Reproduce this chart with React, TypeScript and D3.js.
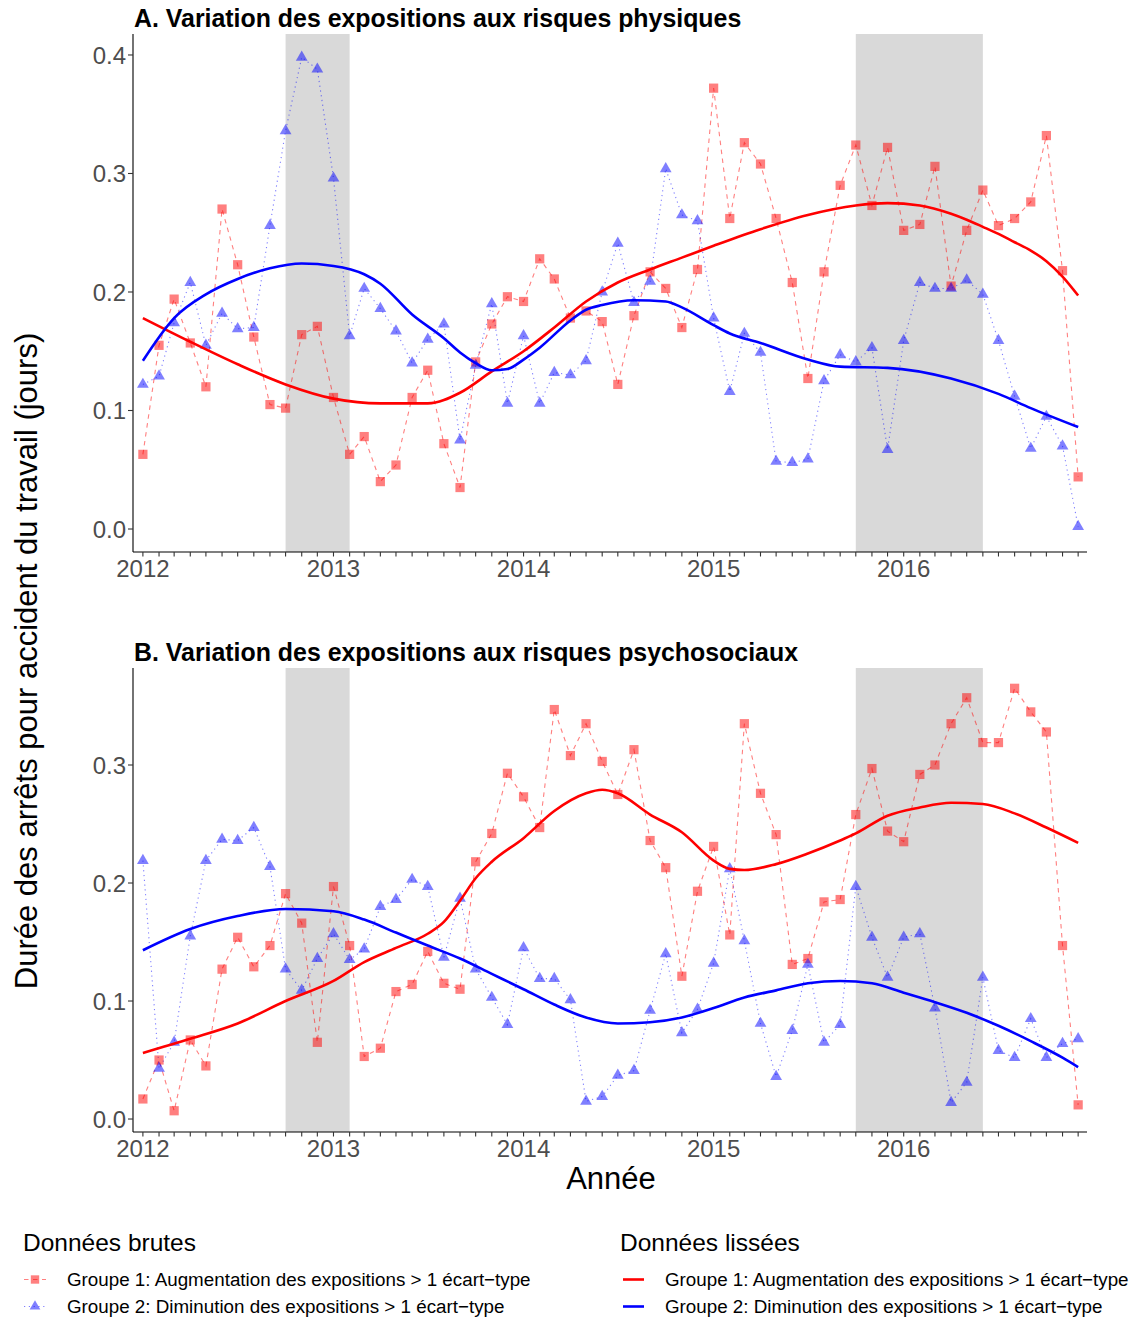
import React from "react";
import * as d3 from "d3";

// ---------- DATA ----------
// Monthly observations, Jan 2012 .. Dec 2016 (60 months)
const months: Date[] = d3.timeMonths(new Date(2012, 0, 1), new Date(2017, 0, 1));
const yearTicks: Date[] = [2012, 2013, 2014, 2015, 2016].map((y) => new Date(y, 0, 1));
const shadedPeriods: [Date, Date][] = [
  [new Date(2012, 9, 1), new Date(2013, 1, 1)],
  [new Date(2015, 9, 1), new Date(2016, 5, 1)],
];

// Panel A — raw data
const rawA_g1 = [
  0.063, 0.155, 0.194, 0.157, 0.120, 0.270, 0.223, 0.162, 0.105, 0.102, 0.164, 0.171,
  0.111, 0.063, 0.078, 0.040, 0.054, 0.111, 0.134, 0.072, 0.035, 0.141, 0.173, 0.196,
  0.192, 0.228, 0.211, 0.178, 0.184, 0.175, 0.122, 0.180, 0.217, 0.203, 0.170, 0.219,
  0.372, 0.262, 0.326, 0.308, 0.262, 0.208, 0.127, 0.217, 0.290, 0.324, 0.273, 0.322,
  0.252, 0.257, 0.306, 0.205, 0.252, 0.286, 0.256, 0.262, 0.276, 0.332, 0.218, 0.044,
];
const rawA_g2 = [
  0.122, 0.129, 0.174, 0.208, 0.155, 0.182, 0.169, 0.170, 0.256, 0.336, 0.398, 0.388,
  0.296, 0.163, 0.203, 0.186, 0.167, 0.140, 0.160, 0.173, 0.075, 0.138, 0.190, 0.106,
  0.163, 0.106, 0.132, 0.130, 0.142, 0.200, 0.241, 0.191, 0.209, 0.304, 0.265, 0.260,
  0.178, 0.116, 0.165, 0.149, 0.057, 0.056, 0.059, 0.125, 0.147, 0.141, 0.153, 0.067,
  0.159, 0.208, 0.203, 0.203, 0.210, 0.198, 0.159, 0.112, 0.068, 0.095, 0.070, 0.002,
];
// Panel A — smoothed curves: [month index, value]
const smoothA_g1: [number, number][] = [
  [0, 0.178], [3, 0.158], [6, 0.139], [9, 0.122], [12, 0.110], [15, 0.106], [18, 0.106],
  [20, 0.115], [22, 0.133], [24, 0.150], [26, 0.170], [28, 0.192], [30, 0.208], [32, 0.219],
  [34, 0.229], [36, 0.239], [39, 0.253], [42, 0.265], [45, 0.273], [47, 0.275], [49, 0.273],
  [51, 0.266], [52, 0.261], [53, 0.255], [54, 0.249], [55, 0.242], [56, 0.235], [57, 0.226],
  [58, 0.213], [59, 0.197],
];
const smoothA_g2: [number, number][] = [
  [0, 0.142], [2, 0.178], [4, 0.198], [6, 0.211], [8, 0.220], [10, 0.224], [12, 0.222],
  [14, 0.215], [15, 0.207], [17, 0.181], [19, 0.161], [20, 0.149], [21, 0.140], [22, 0.134],
  [23, 0.135], [24, 0.143], [25, 0.153], [27, 0.176], [28, 0.185], [29, 0.189], [31, 0.193],
  [33, 0.192], [34, 0.187], [36, 0.172], [37, 0.165], [39, 0.157], [42, 0.143], [44, 0.137],
  [47, 0.136], [51, 0.127], [54, 0.114], [56, 0.102], [59, 0.086],
];

// Panel B — raw data
const rawB_g1 = [
  0.017, 0.050, 0.007, 0.067, 0.045, 0.127, 0.154, 0.129, 0.147, 0.191, 0.166, 0.065,
  0.197, 0.147, 0.053, 0.060, 0.108, 0.114, 0.142, 0.115, 0.110, 0.218, 0.242, 0.293,
  0.273, 0.247, 0.347, 0.308, 0.335, 0.303, 0.275, 0.313, 0.236, 0.213, 0.121, 0.193,
  0.231, 0.156, 0.335, 0.276, 0.241, 0.131, 0.136, 0.184, 0.186, 0.258, 0.297, 0.244,
  0.235, 0.292, 0.300, 0.335, 0.357, 0.319, 0.319, 0.365, 0.345, 0.328, 0.147, 0.012,
];
const rawB_g2 = [
  0.219, 0.043, 0.065, 0.155, 0.219, 0.237, 0.236, 0.247, 0.214, 0.127, 0.109, 0.136,
  0.157, 0.135, 0.144, 0.180, 0.186, 0.203, 0.197, 0.137, 0.187, 0.127, 0.103, 0.080,
  0.145, 0.119, 0.119, 0.101, 0.015, 0.019, 0.037, 0.041, 0.092, 0.140, 0.073, 0.093,
  0.132, 0.212, 0.151, 0.081, 0.036, 0.075, 0.131, 0.065, 0.080, 0.197, 0.154, 0.120,
  0.154, 0.157, 0.094, 0.014, 0.031, 0.120, 0.058, 0.052, 0.085, 0.052, 0.064, 0.068,
];
const smoothB_g1: [number, number][] = [
  [0, 0.056], [3, 0.068], [6, 0.081], [9, 0.100], [12, 0.117], [14, 0.133], [16, 0.145],
  [18, 0.157], [19, 0.167], [20, 0.185], [21, 0.204], [22, 0.218], [24, 0.238], [26, 0.261],
  [28, 0.276], [29, 0.279], [30, 0.276], [32, 0.258], [34, 0.243], [36, 0.219], [37, 0.212],
  [38, 0.211], [40, 0.216], [42, 0.225], [44, 0.236], [45, 0.242], [47, 0.257], [49, 0.264],
  [51, 0.268], [53, 0.267], [55, 0.259], [57, 0.247], [59, 0.234],
];
const smoothB_g2: [number, number][] = [
  [0, 0.143], [3, 0.161], [6, 0.172], [9, 0.178], [12, 0.176], [14, 0.169], [16, 0.158],
  [18, 0.147], [20, 0.136], [22, 0.123], [24, 0.110], [26, 0.097], [28, 0.086], [30, 0.081],
  [32, 0.082], [34, 0.086], [36, 0.094], [38, 0.103], [40, 0.109], [42, 0.115], [44, 0.117],
  [46, 0.115], [48, 0.107], [50, 0.099], [52, 0.090], [54, 0.079], [56, 0.066], [58, 0.052],
  [59, 0.044],
];

const panelTitles = [
  "A. Variation des expositions aux risques physiques",
  "B. Variation des expositions aux risques psychosociaux",
];
const yTicksA = [0, 0.1, 0.2, 0.3, 0.4];
const yTicksB = [0, 0.1, 0.2, 0.3];
const yLabel = "Durée des arrêts pour accident du travail (jours)";
const xLabel = "Année";
const legendRawTitle = "Données brutes";
const legendSmoothTitle = "Données lissées";
const groupLabels = [
  "Groupe 1: Augmentation des expositions > 1 écart\u2212type",
  "Groupe 2: Diminution des expositions > 1 écart\u2212type",
];

// ---------- STYLE ----------
const FONT = "'Liberation Sans', Arial, Helvetica, sans-serif";
const RED = "#ff0000";
const BLUE = "#0000ff";
const RED_A = "rgba(255,0,0,0.5)";
const BLUE_A = "rgba(0,0,255,0.5)";
const SHADE = "#d9d9d9";
const TICK_COL = "#4d4d4d";

const W = 1133;
const H = 1319;
const plotLeft = 133;
const plotRight = 1087;

const xScale = d3
  .scaleTime()
  .domain([d3.timeDay.offset(new Date(2012, 0, 1), -19), d3.timeDay.offset(new Date(2016, 11, 1), 17)])
  .range([plotLeft, plotRight]);

const squarePath = d3.symbol(d3.symbolSquare, 85)()!;
const trianglePath = d3.symbol(d3.symbolTriangle, 60)()!;

type PanelProps = {
  top: number;
  bottom: number;
  yDomain: [number, number];
  yTicks: number[];
  title: string;
  g1: number[];
  g2: number[];
  s1: [number, number][];
  s2: [number, number][];
};

function Panel({ top, bottom, yDomain, yTicks, title, g1, g2, s1, s2 }: PanelProps) {
  const y = d3.scaleLinear().domain(yDomain).range([bottom, top]);
  const rawLine = d3
    .line<number>()
    .x((_, i) => xScale(months[i]))
    .y((d) => y(d));
  const smoothLine = d3
    .line<[number, number]>()
    .x((d) => xScale(months[d[0]]))
    .y((d) => y(d[1]))
    .curve(d3.curveMonotoneX);
  const fmt = d3.format(".1f");
  return (
    <g>
      {shadedPeriods.map(([a, b], i) => (
        <rect key={i} x={xScale(a)} y={top} width={xScale(b) - xScale(a)} height={bottom - top} fill={SHADE} />
      ))}
      <path d={rawLine(g1)!} fill="none" stroke={RED_A} strokeWidth={1.1} strokeDasharray="4.5,4.5" />
      <path d={rawLine(g2)!} fill="none" stroke={BLUE_A} strokeWidth={1.1} strokeDasharray="1.2,3.6" />
      {g1.map((v, i) => (
        <path key={"r" + i} d={squarePath} transform={`translate(${xScale(months[i])},${y(v)})`} fill={RED_A} />
      ))}
      {g2.map((v, i) => (
        <path key={"b" + i} d={trianglePath} transform={`translate(${xScale(months[i])},${y(v)})`} fill={BLUE_A} />
      ))}
      <path d={smoothLine(s1)!} fill="none" stroke={RED} strokeWidth={2.6} />
      <path d={smoothLine(s2)!} fill="none" stroke={BLUE} strokeWidth={2.6} />
      {/* axes */}
      <line x1={plotLeft} x2={plotLeft} y1={top} y2={bottom} stroke="#000" strokeWidth={1.1} />
      <line x1={plotLeft} x2={plotRight} y1={bottom} y2={bottom} stroke="#000" strokeWidth={1.1} />
      {yTicks.map((t) => (
        <g key={t}>
          <line x1={plotLeft - 5} x2={plotLeft} y1={y(t)} y2={y(t)} stroke="#333" strokeWidth={1.1} />
          <text x={plotLeft - 7} y={y(t)} dy="0.36em" textAnchor="end" fontSize={24} fill={TICK_COL} fontFamily={FONT}>
            {fmt(t)}
          </text>
        </g>
      ))}
      {months.map((m, i) => (
        <line key={i} x1={xScale(m)} x2={xScale(m)} y1={bottom} y2={bottom + 4.5} stroke="#333" strokeWidth={1.1} />
      ))}
      {yearTicks.map((t, i) => (
        <text key={i} x={xScale(t)} y={bottom + 25} textAnchor="middle" fontSize={24} fill={TICK_COL} fontFamily={FONT}>
          {d3.timeFormat("%Y")(t)}
        </text>
      ))}
      <text x={plotLeft + 1} y={top - 7} fontSize={24.9} fontWeight="bold" fill="#000" fontFamily={FONT}>
        {title}
      </text>
    </g>
  );
}

function Legend() {
  const sq = d3.symbol(d3.symbolSquare, 70)()!;
  const tri = d3.symbol(d3.symbolTriangle, 50)()!;
  const rows = [1286, 1313];
  return (
    <g fontFamily={FONT}>
      <text x={23} y={1251} fontSize={24.5} fill="#000">{legendRawTitle}</text>
      <text x={620} y={1251} fontSize={24.5} fill="#000">{legendSmoothTitle}</text>
      {rows.map((ry, i) => {
        const cy = ry - 6.5;
        return (
          <g key={i}>
            <line
              x1={24}
              x2={46}
              y1={cy}
              y2={cy}
              stroke={i === 0 ? RED_A : BLUE_A}
              strokeWidth={1.1}
              strokeDasharray={i === 0 ? "4.5,4.5" : "1.2,3.6"}
            />
            <path d={i === 0 ? sq : tri} transform={`translate(35,${cy})`} fill={i === 0 ? RED_A : BLUE_A} />
            <text x={67} y={ry} fontSize={18.8} fill="#000">{groupLabels[i]}</text>
            <line x1={623} x2={644} y1={cy} y2={cy} stroke={i === 0 ? RED : BLUE} strokeWidth={2.6} />
            <text x={665} y={ry} fontSize={18.8} fill="#000">{groupLabels[i]}</text>
          </g>
        );
      })}
    </g>
  );
}

export default function App() {
  return (
    <svg
      width={W}
      height={H}
      viewBox={`0 0 ${W} ${H}`}
      style={{ position: "absolute", left: 0, top: 0, background: "#fff" }}
    >
      <rect x={0} y={0} width={W} height={H} fill="#fff" />
      <Panel
        top={34}
        bottom={552}
        yDomain={[-0.0194, 0.4177]}
        yTicks={yTicksA}
        title={panelTitles[0]}
        g1={rawA_g1}
        g2={rawA_g2}
        s1={smoothA_g1}
        s2={smoothA_g2}
      />
      <Panel
        top={668}
        bottom={1132}
        yDomain={[-0.011, 0.3822]}
        yTicks={yTicksB}
        title={panelTitles[1]}
        g1={rawB_g1}
        g2={rawB_g2}
        s1={smoothB_g1}
        s2={smoothB_g2}
      />
      <text
        transform={`translate(37,661) rotate(-90)`}
        textAnchor="middle"
        fontSize={31}
        fill="#000"
        fontFamily={FONT}
      >
        {yLabel}
      </text>
      <text x={611} y={1189} textAnchor="middle" fontSize={31} fill="#000" fontFamily={FONT}>
        {xLabel}
      </text>
      <Legend />
    </svg>
  );
}
